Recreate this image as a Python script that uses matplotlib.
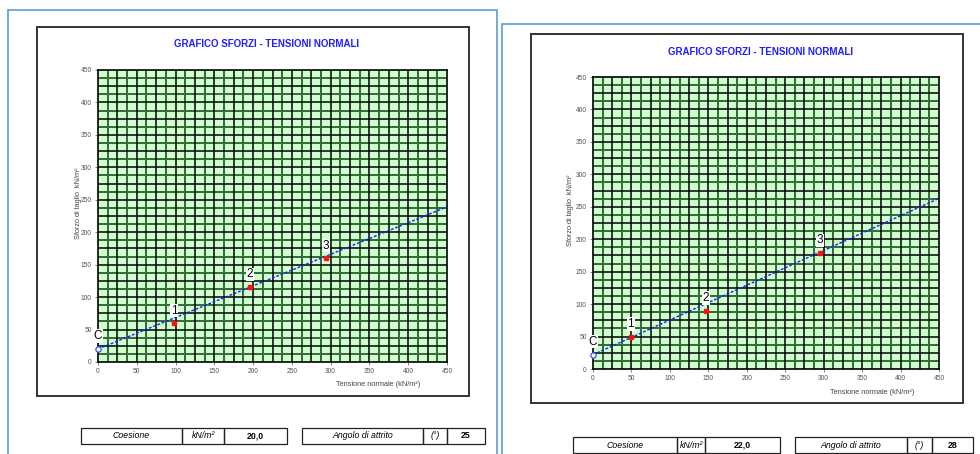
import numpy as np
import matplotlib
matplotlib.use("Agg")
import matplotlib.pyplot as plt
from matplotlib.patches import Rectangle

plt.rcParams['font.family'] = ['Liberation Sans', 'DejaVu Sans']

W, H = 980, 454

# ---- data ----
left_sigma = [98, 196, 294]
left_tau = [60, 116, 160]
left_c = 20.0
left_tau_end = 239          # line value at sigma = 450
left_phi = 25

right_sigma = [49, 147, 295]
right_tau = [50, 90, 179]
right_c = 22.0
right_tau_end = 263
right_phi = 28

point_names = ["1", "2", "3"]
ticks = [0, 50, 100, 150, 200, 250, 300, 350, 400, 450]

fig = plt.figure(figsize=(W / 100, H / 100), dpi=100)


def frac(x0, y0, x1, y1):
    # pixel box (top-left origin) -> figure fraction rect
    return [x0 / W, 1 - y1 / H, (x1 - x0) / W, (y1 - y0) / H]


def box(x0, y0, x1, y1, color, lw, z=0):
    fig.patches.append(Rectangle((x0 / W, 1 - y1 / H), (x1 - x0) / W, (y1 - y0) / H,
                                 transform=fig.transFigure, fill=False,
                                 edgecolor=color, lw=lw, zorder=z))


def ftext(x, y, s, **kw):
    fig.text(x / W, 1 - y / H, s, **kw)


def panel(outer, inner, plot, sig, tau, c, tau_end, title_xy, ylab_xy, xlab_xy):
    box(*outer, color='#5b9bd5', lw=1.2)
    box(*inner, color='#333333', lw=1.4)
    ftext(*title_xy, "GRAFICO SFORZI - TENSIONI NORMALI", color='#1f1fff',
          fontsize=7, fontweight='bold', ha='center', va='center')
    ftext(*ylab_xy, "Sforzo di taglio  kN/m²", color='#444444', fontsize=5.3,
          rotation=90, ha='center', va='center')
    ftext(*xlab_xy, "Tensione normale (kN/m²)", color='#444444', fontsize=5.3,
          ha='center', va='center')

    ax = fig.add_axes(frac(*plot))
    ax.set_facecolor('#ccffcc')
    ax.set_xlim(0, 450)
    ax.set_ylim(0, 450)
    minor = np.arange(12.5, 450, 25)
    major = np.arange(25, 450, 25)
    for v in minor:
        ax.axvline(v, color='#3a663a', lw=1.4, zorder=1)
        ax.axhline(v, color='#3a663a', lw=1.4, zorder=1)
    for v in major:
        ax.axvline(v, color='black', lw=1.1, zorder=1)
        ax.axhline(v, color='black', lw=1.1, zorder=1)
    for s in ax.spines.values():
        s.set_color('black')
        s.set_linewidth(1.2)
    ax.set_xticks(ticks)
    ax.set_yticks(ticks)
    ax.tick_params(labelsize=4.8, colors='#555555', length=2, width=0.5, pad=2.5)

    ax.plot([0, 450], [c, tau_end], color='#1a1aff', lw=1.0, ls=(0, (2, 1.3)), zorder=3)
    ax.plot([0], [c], marker='o', ms=3.8, mfc='white', mec='#3355ff', mew=0.9,
            clip_on=False, zorder=4)
    ax.plot(sig, tau, ls='none', marker='s', ms=2.8, color='#ff1010', zorder=4)
    bb = dict(facecolor='white', edgecolor='none', pad=0.5)
    for n, x, y in zip(point_names, sig, tau):
        ax.annotate(n, (x, y), xytext=(0, 9), textcoords='offset points',
                    ha='center', va='center', fontsize=8.5, bbox=bb, zorder=5)
    ax.annotate("C", (0, c), xytext=(0, 9.5), textcoords='offset points',
                ha='center', va='center', fontsize=8.5, bbox=bb, zorder=5,
                annotation_clip=False)
    return ax


def table(y0, y1, xs, texts, styles):
    for i in range(len(texts)):
        fig.patches.append(Rectangle((xs[i] / W, 1 - y1 / H), (xs[i + 1] - xs[i]) / W,
                                     (y1 - y0) / H, transform=fig.transFigure,
                                     fill=False, edgecolor='#222222', lw=0.9))
        ftext((xs[i] + xs[i + 1]) / 2, (y0 + y1) / 2, texts[i], fontsize=6.3,
              ha='center', va='center', **styles[i])


panel((8, 10, 497, 470), (37, 27, 469, 396), (98, 70, 447, 362),
      left_sigma, left_tau, left_c, left_tau_end,
      (267, 44), (78, 203), (378, 384))
panel((502, 24, 990, 470), (531, 34, 963, 403), (593, 77, 939, 369),
      right_sigma, right_tau, right_c, right_tau_end,
      (760, 52), (570, 210), (872, 392))

it = dict(style='italic')
bd = dict(fontweight='bold')
fmt = lambda v: ("%.1f" % v).replace(".", ",")
table(428, 444, [81, 182, 224, 287], ["Coesione", "kN/m²", fmt(left_c)], [it, it, bd])
table(428, 444, [302, 423, 447, 485], ["Angolo di attrito", "(°)", str(left_phi)], [it, it, bd])
table(437, 453, [573, 677, 705, 780], ["Coesione", "kN/m²", fmt(right_c)], [it, it, bd])
table(437, 453, [795, 907, 932, 973], ["Angolo di attrito", "(°)", str(right_phi)], [it, it, bd])

fig.savefig("out.png", dpi=100)
